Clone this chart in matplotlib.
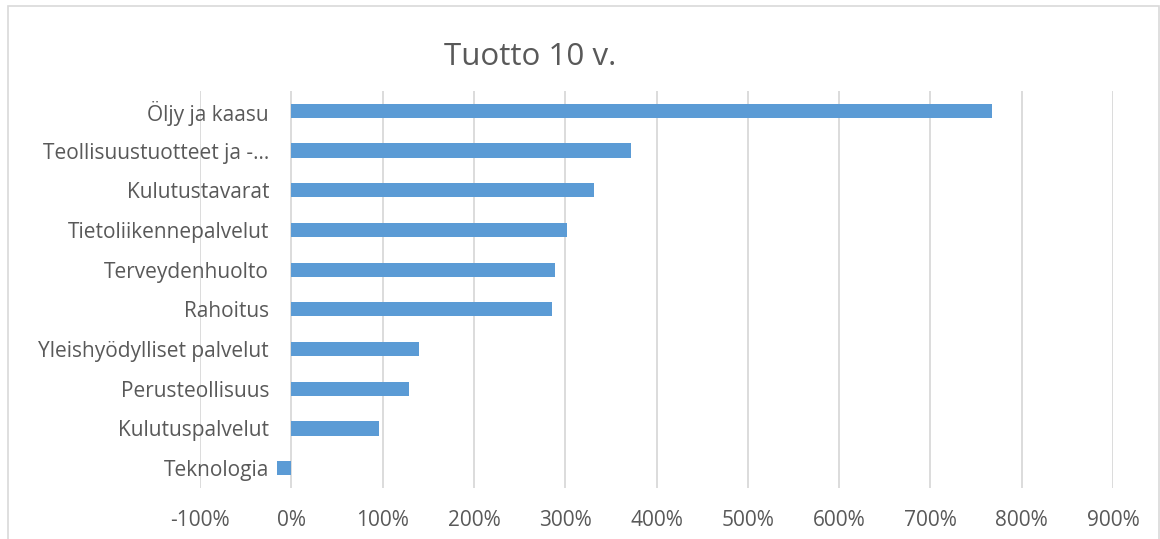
import matplotlib.pyplot as plt
from matplotlib.patches import Rectangle
from matplotlib.ticker import FuncFormatter

categories = [
    "Teknologia",
    "Kulutuspalvelut",
    "Perusteollisuus",
    "Yleishyödylliset palvelut",
    "Rahoitus",
    "Terveydenhuolto",
    "Tietoliikennepalvelut",
    "Kulutustavarat",
    "Teollisuustuotteet ja -…",
    "Öljy ja kaasu",
]
returns_pct = [-16, 96, 129, 140, 285, 289, 302, 331, 372, 768]
x_ticks = [-100, 0, 100, 200, 300, 400, 500, 600, 700, 800, 900]

plt.rcParams["font.family"] = ["Open Sans", "DejaVu Sans"]
TEXT = "#595959"

fig = plt.figure(figsize=(11.6, 5.39), dpi=100)
ax = fig.add_axes([200 / 1160, 1 - 488 / 539, (1113 - 200) / 1160, (488 - 91) / 539])

ypos = range(len(categories))
ax.barh(ypos, returns_pct, height=0.36, color="#5b9bd5", zorder=3)

ax.set_xlim(-100, 900)
ax.set_ylim(-0.5, len(categories) - 0.5)
ax.set_xticks(x_ticks)
ax.xaxis.set_major_formatter(FuncFormatter(lambda v, p: f"{v:.0f}%"))
ax.set_yticks(list(ypos))
ax.set_yticklabels(categories)

ax.grid(axis="x", color="#d9d9d9", linewidth=1.3, zorder=0)
for s in ax.spines.values():
    s.set_visible(False)
ax.spines["left"].set_position(("data", 0))
ax.tick_params(axis="x", length=0, pad=16, labelsize=15, labelcolor=TEXT)
ax.tick_params(axis="y", length=0, pad=16, labelsize=15, labelcolor=TEXT)

fig.text(530 / 1160, 1 - 57 / 539, "Tuotto 10 v.", ha="center", va="center",
         fontsize=22.5, color=TEXT)

fig.patches.append(Rectangle((8 / 1160, -0.01), (1159 - 8) / 1160, 1 - 6 / 539 + 0.01,
                             transform=fig.transFigure, fill=False,
                             edgecolor="#d9d9d9", linewidth=1.2))

fig.savefig("out.png", dpi=100)
